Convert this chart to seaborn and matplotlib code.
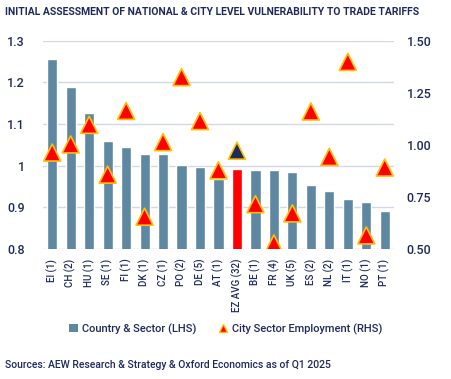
import matplotlib
matplotlib.use("Agg")
import matplotlib.pyplot as plt
import seaborn as sns
import pandas as pd
from matplotlib.lines import Line2D
from matplotlib.patches import Patch

# data
countries = ["EI (1)", "CH (2)", "HU (1)", "SE (1)", "FI (1)", "DK (1)", "CZ (1)",
             "PO (2)", "DE (5)", "AT (1)", "EZ AVG (32)", "BE (1)", "FR (4)", "UK (5)",
             "ES (2)", "NL (2)", "IT (1)", "NO (1)", "PT (1)"]
country_sector = [1.256, 1.189, 1.127, 1.060, 1.045, 1.028, 1.028, 1.001, 0.997, 0.969,
                  0.992, 0.990, 0.990, 0.985, 0.954, 0.939, 0.920, 0.913, 0.891]
city_employment = [0.963, 1.002, 1.096, 0.857, 1.163, 0.655, 1.013, 1.325, 1.114, 0.878,
                   0.972, 0.715, 0.527, 0.671, 1.160, 0.942, 1.398, 0.565, 0.891]

NAVY = "#1f2a5c"
BAR = "#5e87a1"
RED = "#ff0000"
GOLD = "#ffc000"
GRID = "#d3d7ea"

sns.set_style("white")
plt.rcParams['font.family'] = ['Roboto', 'DejaVu Sans']
plt.rcParams['font.weight'] = 'medium'

df = pd.DataFrame({"country": countries, "lhs": country_sector, "rhs": city_employment})
bar_colors = [RED if c.startswith("EZ") else BAR for c in countries]
tri_colors = [NAVY if c.startswith("EZ") else RED for c in countries]

fig = plt.figure(figsize=(4.51, 3.79), dpi=100)
ax = fig.add_axes([0.0953, 0.343, 0.7783, 0.5497])

sns.barplot(data=df, x="country", y="lhs", hue="country", palette=bar_colors,
            width=0.55, legend=False, ax=ax, saturation=1)
ax.set_ylim(0.8, 1.3)
ax.set_xlim(-0.5, len(countries) - 0.5)
ax.set_yticks([0.8, 0.9, 1.0, 1.1, 1.2, 1.3])
ax.set_yticklabels(["0.8", "0.9", "1", "1.1", "1.2", "1.3"])
ax.yaxis.grid(True, color=GRID, lw=1)
ax.set_axisbelow(True)
ax.set_xlabel("")
ax.set_ylabel("")
ax.tick_params(axis="y", length=0, pad=13, labelsize=9, labelcolor=NAVY)
ax.tick_params(axis="x", length=0, pad=7, labelsize=7, labelcolor=NAVY, rotation=90)
for s in ax.spines.values():
    s.set_visible(False)

ax2 = ax.twinx()
sns.scatterplot(data=df, x="country", y="rhs", hue="country", palette=tri_colors,
                marker="^", s=150, edgecolor=GOLD, linewidth=1.2, legend=False,
                ax=ax2, zorder=5)
ax2.set_ylim(0.5, 1.5)
ax2.set_xlim(-0.5, len(countries) - 0.5)
ax2.set_yticks([0.5, 0.75, 1.0, 1.25, 1.5])
ax2.set_yticklabels(["0.50", "0.75", "1.00", "1.25", "1.50"])
ax2.set_ylabel("")
ax2.set_xlabel("")
ax2.tick_params(axis="y", length=0, pad=9, labelsize=9, labelcolor=NAVY)
for s in ax2.spines.values():
    s.set_visible(False)

handles = [Patch(facecolor=BAR, edgecolor="none"),
           Line2D([], [], marker="^", ls="none", markerfacecolor=RED,
                  markeredgecolor=GOLD, markersize=6)]
fig.legend(handles, ["Country & Sector (LHS)", "City Sector Employment (RHS)"],
           loc="center", bbox_to_anchor=(0.5, 0.132), ncol=2, frameon=False,
           fontsize=8, labelcolor=NAVY, handlelength=0.8, handletextpad=0.4,
           columnspacing=2.0)

fig.text(0.011, 0.968, "INITIAL ASSESSMENT OF NATIONAL & CITY LEVEL VULNERABILITY TO TRADE TARIFFS",
         fontsize=7.5, color=NAVY, va="center", ha="left", weight="bold")
fig.text(0.011, 0.037, "Sources: AEW Research & Strategy & Oxford Economics as of Q1 2025",
         fontsize=7.5, color=NAVY, va="center", ha="left")

fig.savefig("out.png", dpi=100)
